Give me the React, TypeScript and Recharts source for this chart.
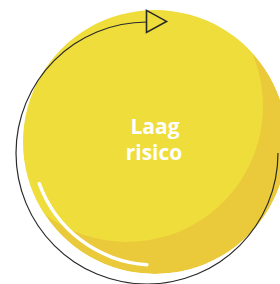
import React from 'react';
import { PieChart, Pie, Cell } from 'recharts';

// Data
const categories = ['Laag risico'];
const values = [1];
const titleLines = ['Laag', 'risico'];

const data = categories.map((name, i) => ({ name, value: values[i] }));

const DARK = '#EAC93A';
const LIGHT = '#EEDD3A';
const LINE = '#2a2a2a';

const renderArrow = (p: any) => {
  const rad = (Math.PI / 180) * p.startAngle;
  const px = p.cx + p.outerRadius * Math.cos(rad) - 0.5;
  const py = p.cy - p.outerRadius * Math.sin(rad);
  return (
    <polygon
      key="arrow"
      points={`${px},${py - 11} ${px + 20},${py} ${px},${py + 11}`}
      fill="none"
      stroke={LINE}
      strokeWidth={1.6}
      strokeLinejoin="miter"
    />
  );
};

const renderTitle = (p: any) => (
  <text
    key="title"
    x={p.cx}
    y={p.cy - 8}
    textAnchor="middle"
    fill="#ffffff"
    fontFamily="'Open Sans', sans-serif"
    fontWeight={700}
    fontSize={21}
  >
    <tspan x={p.cx} dy={0}>{titleLines[0]}</tspan>
    <tspan x={p.cx - 1} dy={26}>{titleLines[1]}</tspan>
  </text>
);

export default function App() {
  return (
    <div style={{ position: 'fixed', left: 0, top: 0, width: 280, height: 284, background: '#fff' }}>
      <PieChart width={280} height={284} margin={{ top: 0, right: 0, bottom: 0, left: 0 }}>
        {/* base (shadow) circle */}
        <Pie data={data} dataKey="value" cx={155} cy={142} innerRadius={0} outerRadius={132}
          startAngle={0} endAngle={360} stroke="none" isAnimationActive={false}>
          {data.map((d) => <Cell key={d.name} fill={DARK} />)}
        </Pie>
        {/* lighter offset circle */}
        <Pie data={data} dataKey="value" cx={127} cy={106} innerRadius={0} outerRadius={136}
          startAngle={0} endAngle={360} stroke="none" isAnimationActive={false}>
          {data.map((d) => <Cell key={d.name} fill={LIGHT} />)}
        </Pie>
        {/* white mask outside the main circle */}
        <Pie data={data} dataKey="value" cx={155} cy={142} innerRadius={132} outerRadius={300}
          startAngle={0} endAngle={360} stroke="none" isAnimationActive={false}>
          {data.map((d) => <Cell key={d.name} fill="#ffffff" />)}
        </Pie>
        {/* black cycle arc with arrow */}
        <Pie data={data} dataKey="value" cx={147} cy={153} innerRadius={130.4} outerRadius={131.6}
          startAngle={90} endAngle={360} stroke="none" isAnimationActive={false}
          label={renderArrow} labelLine={false}>
          {data.map((d) => <Cell key={d.name} fill={LINE} />)}
        </Pie>
        {/* white highlight */}
        <Pie data={data} dataKey="value" cx={155} cy={142} innerRadius={121.3} outerRadius={124.7}
          startAngle={199} endAngle={267} cornerRadius={1.7} stroke="none" isAnimationActive={false}
          label={renderTitle} labelLine={false}>
          {data.map((d) => <Cell key={d.name} fill="#ffffff" />)}
        </Pie>
      </PieChart>
    </div>
  );
}
